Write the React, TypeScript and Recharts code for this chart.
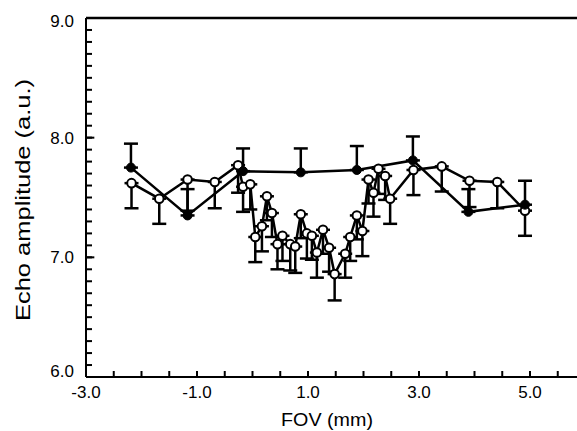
import React from 'react';
import { ComposedChart, Line, XAxis, YAxis, ErrorBar, ReferenceLine } from 'recharts';

// filled circles (error bar drawn upward)
const FILLED_X = [-2.19, -1.17, -0.17, 0.87, 1.88, 2.89, 3.89, 4.91];
const FILLED_Y = [7.75, 7.35, 7.72, 7.71, 7.73, 7.81, 7.38, 7.44];
const FILLED_ERR = [0.2, 0.22, 0.19, 0.2, 0.2, 0.2, 0.19, 0.2];

// open circles (error bar drawn downward)
const OPEN_X = [
  -2.18, -1.68, -1.17, -0.68, -0.26, -0.17, -0.04, 0.05, 0.17, 0.26, 0.35, 0.45, 0.54, 0.68, 0.77, 0.87, 0.98, 1.07,
  1.16, 1.27, 1.38, 1.48, 1.67, 1.76, 1.88, 1.98, 2.09, 2.18, 2.27, 2.39, 2.48, 2.9, 3.41, 3.91, 4.41, 4.91,
];
const OPEN_Y = [
  7.62, 7.49, 7.65, 7.63, 7.77, 7.59, 7.61, 7.17, 7.26, 7.51, 7.37, 7.11, 7.18, 7.11, 7.09, 7.36, 7.2, 7.18, 7.04,
  7.23, 7.08, 6.86, 7.03, 7.17, 7.35, 7.22, 7.65, 7.54, 7.74, 7.68, 7.49, 7.73, 7.76, 7.64, 7.63, 7.39,
];
const OPEN_ERR = [
  0.21, 0.21, 0.26, 0.22, 0.23, 0.21, 0.21, 0.21, 0.21, 0.2, 0.2, 0.21, 0.21, 0.22, 0.22, 0.2, 0.21, 0.2, 0.21, 0.2,
  0.2, 0.22, 0.2, 0.2, 0.2, 0.21, 0.2, 0.2, 0.21, 0.2, 0.21, 0.21, 0.21, 0.22, 0.22, 0.21,
];

const X_LABELS = [-3, -1, 1, 3, 5];
const X_TICKS = [-3, -2.5, -2, -1.5, -1, -0.5, 0, 0.5, 1, 1.5, 2, 2.5, 3, 3.5, 4, 4.5, 5, 5.5, 6];
const Y_LABELS = [6, 7, 8, 9];
const Y_TICKS = Array.from({ length: 31 }, (_, i) => Math.round((6 + i * 0.1) * 10) / 10);

const filled = FILLED_X.map((x, i) => ({ x, y: FILLED_Y[i], err: [0, FILLED_ERR[i]] }));
const open = OPEN_X.map((x, i) => ({ x, y: OPEN_Y[i], err: [OPEN_ERR[i], 0] }));

const FONT = '"Liberation Sans", Arial, sans-serif';

const YTick = (props: any) => {
  const { x, y, payload } = props;
  const v = payload.value;
  if (!Y_LABELS.includes(v)) return <g />;
  // end labels are nudged inward like the original
  const shift = v === 9 ? 3 : v === 6 ? -6 : 0;
  return (
    <text x={x} y={y + shift} dy="0.36em" textAnchor="end" fontFamily={FONT} fontSize={17} fill="#000" stroke="none">
      {v.toFixed(1)}
    </text>
  );
};

const XTick = (props: any) => {
  const { x, y, payload } = props;
  const v = payload.value;
  if (!X_LABELS.includes(v)) return <g />;
  return (
    <text x={x} y={y} dy="0.71em" textAnchor="middle" fontFamily={FONT} fontSize={17} fill="#000" stroke="none">
      {v.toFixed(1)}
    </text>
  );
};

export default function App() {
  return (
    <div style={{ position: 'absolute', left: 0, top: 0, width: 577, height: 431, overflow: 'hidden', background: '#fff' }}>
      <ComposedChart width={600} height={431} margin={{ top: 18, right: 14.5, left: 0, bottom: 0 }}>
        <XAxis
          type="number"
          dataKey="x"
          domain={[-3, 6]}
          ticks={X_TICKS}
          interval={0}
          stroke="#000"
          strokeWidth={2}
          tick={(p: any) => <XTick {...p} />}
          tickSize={-6}
          tickMargin={15}
          height={54}
          label={{
            content: () => (
              <text x={327} y={426} textAnchor="middle" fontFamily={FONT} fontSize={18.5} textLength={92} lengthAdjust="spacingAndGlyphs">
                FOV (mm)
              </text>
            ),
          }}
        />
        <YAxis
          type="number"
          domain={[6, 9]}
          ticks={Y_TICKS}
          interval={0}
          stroke="#000"
          strokeWidth={2}
          tick={(p: any) => <YTick {...p} />}
          tickSize={-6}
          tickMargin={18}
          width={86}
          label={{
            content: () => (
              <text
                x={0}
                y={0}
                transform="translate(30 200) rotate(-90)"
                textAnchor="middle"
                fontFamily={FONT}
                fontSize={21}
                textLength={242}
                lengthAdjust="spacingAndGlyphs"
              >
                Echo amplitude (a.u.)
              </text>
            ),
          }}
        />
        {/* longer marks at the labelled values */}
        {Y_LABELS.map((v) => (
          <ReferenceLine
            key={`yt-${v}`}
            segment={[
              { x: -3, y: v },
              { x: -2.85, y: v },
            ]}
            stroke="#000"
            strokeWidth={2}
            ifOverflow="visible"
          />
        ))}
        <ReferenceLine y={9} stroke="#000" strokeWidth={2.5} />
        <Line
          data={open}
          dataKey="y"
          type="linear"
          stroke="#000"
          strokeWidth={2.5}
          dot={{ r: 4.3, fill: '#fff', stroke: '#000', strokeWidth: 2 }}
          isAnimationActive={false}
        >
          <ErrorBar dataKey="err" direction="y" width={7} stroke="#000" strokeWidth={2.5} />
        </Line>
        <Line
          data={filled}
          dataKey="y"
          type="linear"
          stroke="#000"
          strokeWidth={2.5}
          dot={{ r: 4.5, fill: '#000', stroke: '#000', strokeWidth: 1 }}
          isAnimationActive={false}
        >
          <ErrorBar dataKey="err" direction="y" width={7} stroke="#000" strokeWidth={2.5} />
        </Line>
      </ComposedChart>
    </div>
  );
}
